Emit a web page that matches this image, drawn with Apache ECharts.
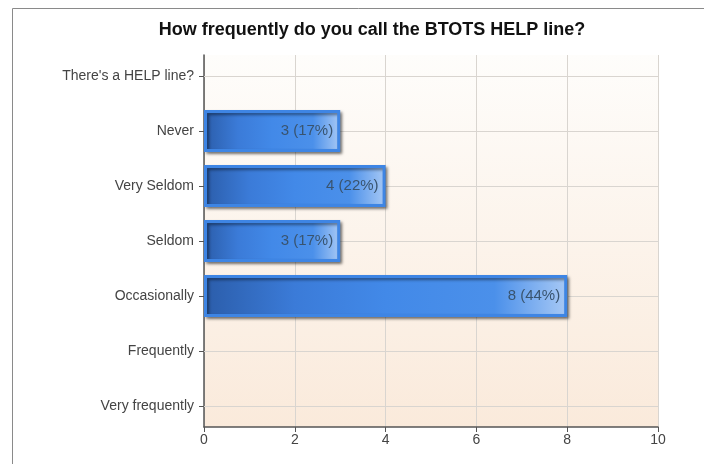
<!DOCTYPE html>
<html><head><meta charset="utf-8">
<script src="https://cdn.jsdelivr.net/npm/echarts/dist/echarts.min.js"></script>
<style>html,body{margin:0;padding:0;background:#fff}#c{width:704px;height:464px}</style>
</head><body><div id="c"></div>
<script>
const chartTitle = 'How frequently do you call the BTOTS HELP line?';
const categories = ["There's a HELP line?", 'Never', 'Very Seldom', 'Seldom', 'Occasionally', 'Frequently', 'Very frequently'];
const counts = [0, 3, 4, 3, 8, 0, 0];
const xMin = 0, xMax = 10, xInterval = 2;

const total = counts.reduce((a, b) => a + b, 0);
const FONT = '"Liberation Sans", Arial, sans-serif';
const chart = echarts.init(document.getElementById('c'), null, {renderer: 'canvas'});

chart.setOption({
  animation: false,
  backgroundColor: '#fff',
  title: {
    text: chartTitle, left: 367, top: 16, textAlign: 'center',
    textStyle: {fontFamily: FONT, fontSize: 18, fontWeight: 'bold', color: '#111'}
  },
  graphic: [{
    type: 'rect', shape: {x: 12.5, y: 8.5, width: 800, height: 600},
    style: {fill: 'none', stroke: '#8a8a8a', lineWidth: 1}, z: -1
  }],
  grid: [
    {left: 204, width: 454, top: 48.5, height: 385},
    {left: 204, width: 454, top: 55, height: 372, show: true, borderWidth: 0,
     backgroundColor: new echarts.graphic.LinearGradient(0, 0, 0, 1, [
       {offset: 0, color: '#fefdfb'}, {offset: 1, color: '#faeadb'}])}
  ],
  xAxis: [
    {gridIndex: 0, type: 'value', min: xMin, max: xMax, show: false},
    {gridIndex: 1, type: 'value', min: xMin, max: xMax, interval: xInterval,
     axisLine: {show: true, lineStyle: {color: '#555', width: 1.5}},
     axisTick: {show: true, length: 5, lineStyle: {color: '#555'}},
     axisLabel: {fontFamily: FONT, fontSize: 14, color: '#444', margin: 6},
     splitLine: {show: true, lineStyle: {color: '#d9d5d0'}}}
  ],
  yAxis: [
    {gridIndex: 0, type: 'category', data: categories, inverse: true, boundaryGap: true,
     axisLine: {show: false},
     axisTick: {show: true, alignWithLabel: true, length: 5, lineStyle: {color: '#555'}},
     axisLabel: {fontFamily: FONT, fontSize: 14, color: '#444', margin: 10},
     splitLine: {show: false}},
    {gridIndex: 1, type: 'value', min: 0, max: 1,
     axisLine: {show: true, lineStyle: {color: '#555', width: 1.5}},
     axisTick: {show: false}, axisLabel: {show: false}, splitLine: {show: false}}
  ],
  series: [
    {
      type: 'line', xAxisIndex: 0, yAxisIndex: 0, z: 1, silent: true,
      data: categories.map(() => null), showSymbol: false,
      markLine: {
        z: 1, silent: true, symbol: ['none', 'none'], label: {show: false},
        lineStyle: {color: '#d9d5d0', type: 'solid', width: 1},
        data: categories.map(c => ({yAxis: c}))
      }
    },
    {
      type: 'bar', xAxisIndex: 0, yAxisIndex: 0, z: 3,
      data: counts.map(v => v === 0 ? null : v),
      barWidth: 42,
      itemStyle: {
        color: new echarts.graphic.LinearGradient(0, 0, 1, 0, [
          {offset: 0, color: '#2b5daa'},
          {offset: 0.25, color: '#3b7bd8'},
          {offset: 0.5, color: '#4289e8'},
          {offset: 0.8, color: '#4b90ea'},
          {offset: 1, color: '#a8c9f5'}
        ]),
        borderColor: '#3e85e4', borderWidth: 3,
        shadowColor: 'rgba(0,0,0,0.45)', shadowBlur: 3, shadowOffsetX: 2, shadowOffsetY: 2
      },
      label: {
        show: true, position: 'insideRight', distance: 7,
        fontFamily: FONT, fontSize: 15, color: '#39546f',
        formatter: p => p.value + ' (' + Math.round(p.value / total * 100) + '%)'
      }
    }
  ]
});
</script>
</body></html>
